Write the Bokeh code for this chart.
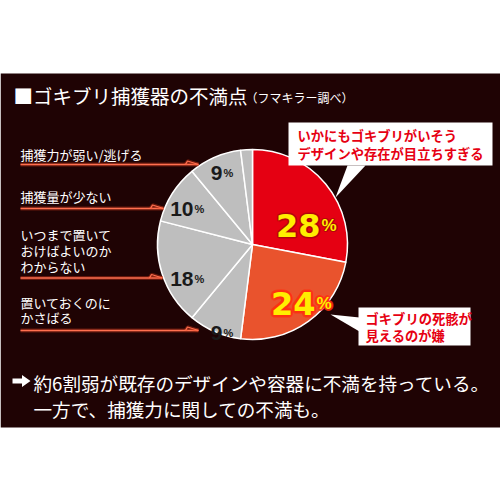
import numpy as np
from bokeh.plotting import figure
from bokeh.models import Range1d, ColumnDataSource
from bokeh.core.properties import value
from bokeh.embed import file_html
from bokeh.resources import INLINE

# ---------------- data ----------------
title = "■ゴキブリ捕獲器の不満点"
source_note = "（フマキラー調べ）"
categories = ["いかにもゴキブリがいそう デザインや存在が目立ちすぎる",
              "ゴキブリの死骸が見えるのが嫌",
              "置いておくのにかさばる",
              "いつまで置いておけばよいのかわからない",
              "捕獲量が少ない",
              "捕獲力が弱い/逃げる",
              "その他"]
values = [28, 24, 9, 18, 10, 9, 2]
pct_labels = ["28", "24", "9", "18", "10", "9", ""]
callout_lines = [["いかにもゴキブリがいそう", "デザインや存在が目立ちすぎる"],
                 ["ゴキブリの死骸が", "見えるのが嫌"]]
side_labels = [["捕獲力が弱い/逃げる"],
               ["捕獲量が少ない"],
               ["いつまで置いて", "おけばよいのか", "わからない"],
               ["置いておくのに", "かさばる"]]
summary = ["約6割弱が既存のデザインや容器に不満を持っている。",
           "一方で、捕獲力に関しての不満も。"]

# ---------------- style / layout ----------------
slice_colors = ["#e50012", "#e9532d", "#bebebe", "#bebebe", "#bebebe", "#bebebe", "#bebebe"]
BG = "#1f0304"
JP = value("Noto Sans CJK JP")
BIGNUM = value("DejaVu Sans")
NUM = value("Liberation Sans")

def Y(y):
    return 500 - y

p = figure(width=500, height=500, x_range=Range1d(0, 500), y_range=Range1d(0, 500),
           output_backend="svg", toolbar_location=None, min_border=0)
p.axis.visible = False
p.grid.visible = False
p.outline_line_color = None
p.background_fill_color = "white"
p.border_fill_color = "white"

# dark panel
p.quad(left=[0], right=[500], bottom=[Y(427)], top=[Y(73)], fill_color=BG, line_color=None)

# pie
cx, cy, R = 252, 244, 95
theta = np.cumsum([0] + values) / sum(values) * 2 * np.pi
src = ColumnDataSource(dict(
    start=list(np.pi / 2 - theta[:-1]),
    end=list(np.pi / 2 - theta[1:]),
    color=slice_colors,
    cat=categories,
    val=values,
))
p.wedge(x=cx, y=Y(cy), radius=R, start_angle="start", end_angle="end", direction="clock",
        fill_color="color", line_color="white", line_width=1.5, source=src)

# percentage labels: (x of boundary between number and %, baseline y)
pct_pos = [(320, 225), (315, 303), (222, 332), (193, 278), (193, 208), (222, 172)]
num_sizes = [32, 32, 21, 21, 21, 21]
pct_sizes = [17, 17, 11, 11, 11, 11]
for i, (lx, ly) in enumerate(pct_pos):
    big = i < 2
    col = "#ffee00" if big else "#1a1a1a"
    nf = BIGNUM if big else NUM
    if big:
        glow_r = 2.6 if i == 1 else 1.6
        glow_c = "#ff3010" if i == 1 else "#b00808"
        for ang in np.linspace(0, 2 * np.pi, 16, endpoint=False):
            ox, oy = glow_r * np.cos(ang), glow_r * np.sin(ang)
            p.text(x=[lx + ox], y=[Y(ly) + oy], text=[pct_labels[i]], text_font=nf,
                   text_font_style="bold", text_font_size=f"{num_sizes[i]}px",
                   text_color=glow_c, text_alpha=0.45, text_align="right", text_baseline="alphabetic")
            p.text(x=[lx + 1 + ox * 0.8], y=[Y(ly) + oy * 0.8], text=["%"], text_font=NUM,
                   text_font_style="bold", text_font_size=f"{pct_sizes[i]}px",
                   text_color=glow_c, text_alpha=0.45, text_align="left", text_baseline="alphabetic")
    p.text(x=[lx], y=[Y(ly)], text=[pct_labels[i]], text_font=nf, text_font_style="bold",
           text_font_size=f"{num_sizes[i]}px", text_color=col,
           text_align="right", text_baseline="alphabetic")
    p.text(x=[lx + 1], y=[Y(ly)], text=["%"], text_font=NUM, text_font_style="bold",
           text_font_size=f"{pct_sizes[i]}px", text_color=col,
           text_align="left", text_baseline="alphabetic")

# side labels with glowing arrows
label_line_y = [[153.5], [195.5], [234, 250, 266], [301.5, 316.5]]
arrow_y = [164, 208, 277.5, 330]
arrow_end = [198, 163, 162, 198]
for lines, ys, ay, ae in zip(side_labels, label_line_y, arrow_y, arrow_end):
    for t, yy in zip(lines, ys):
        p.text(x=[20], y=[Y(yy)], text=[t], text_font=JP, text_font_size="13px",
               text_color="white", text_align="left", text_baseline="middle")
    p.line(x=[20, ae], y=[Y(ay), Y(ay)], line_color="#e8401c", line_alpha=0.35, line_width=4)
    p.line(x=[20, ae], y=[Y(ay), Y(ay)], line_color="#ff7050", line_width=1.5)
    p.line(x=[ae - 13, ae - 11, ae], y=[Y(ay), Y(ay - 3.5), Y(ay)], line_color="#e8401c",
           line_alpha=0.35, line_width=3.5)
    p.line(x=[ae - 13, ae - 11, ae], y=[Y(ay), Y(ay - 3.5), Y(ay)], line_color="#ff7050",
           line_width=1.3)

# callouts
boxes = [(288, 122, 492, 165), (358, 307, 470, 345)]
tails = [([347, 365, 335], [165, 165, 197]), ([359, 359, 330], [317, 331, 314])]
text_x = [297, 365]
text_y = [[135, 152.7], [318, 335]]
for (l, t, r, b), (tx, ty), lines, x0, ys in zip(boxes, tails, callout_lines, text_x, text_y):
    p.quad(left=[l], right=[r], top=[Y(t)], bottom=[Y(b)], fill_color="white", line_color=None)
    p.patch(x=tx, y=[Y(v) for v in ty], fill_color="white", line_color=None)
    for t_, yy in zip(lines, ys):
        p.text(x=[x0], y=[Y(yy)], text=[t_], text_font=JP, text_font_style="bold",
               text_font_size="13.3px", text_color="#e60012", text_align="left", text_baseline="middle")

# title
p.text(x=[13], y=[Y(95)], text=[title], text_font=JP, text_font_size="19.5px",
       text_color="white", text_align="left", text_baseline="middle")
p.text(x=[245], y=[Y(97)], text=[source_note], text_font=JP, text_font_size="12px",
       text_color="white", text_align="left", text_baseline="middle")

# summary with block arrow
ax_ = [12, 21.5, 21.5, 30, 21.5, 21.5, 12]
ay_ = [378, 378, 374.5, 380.5, 386.5, 383, 383]
p.patch(x=ax_, y=[Y(v) for v in ay_], fill_color="white", line_color=None)
for t_, yy in zip(summary, [382, 408]):
    p.text(x=[33], y=[Y(yy)], text=[t_], text_font=JP, text_font_size="18.6px",
           text_color="white", text_align="left", text_baseline="middle")

open("out.html", "w").write(file_html(p, INLINE))
